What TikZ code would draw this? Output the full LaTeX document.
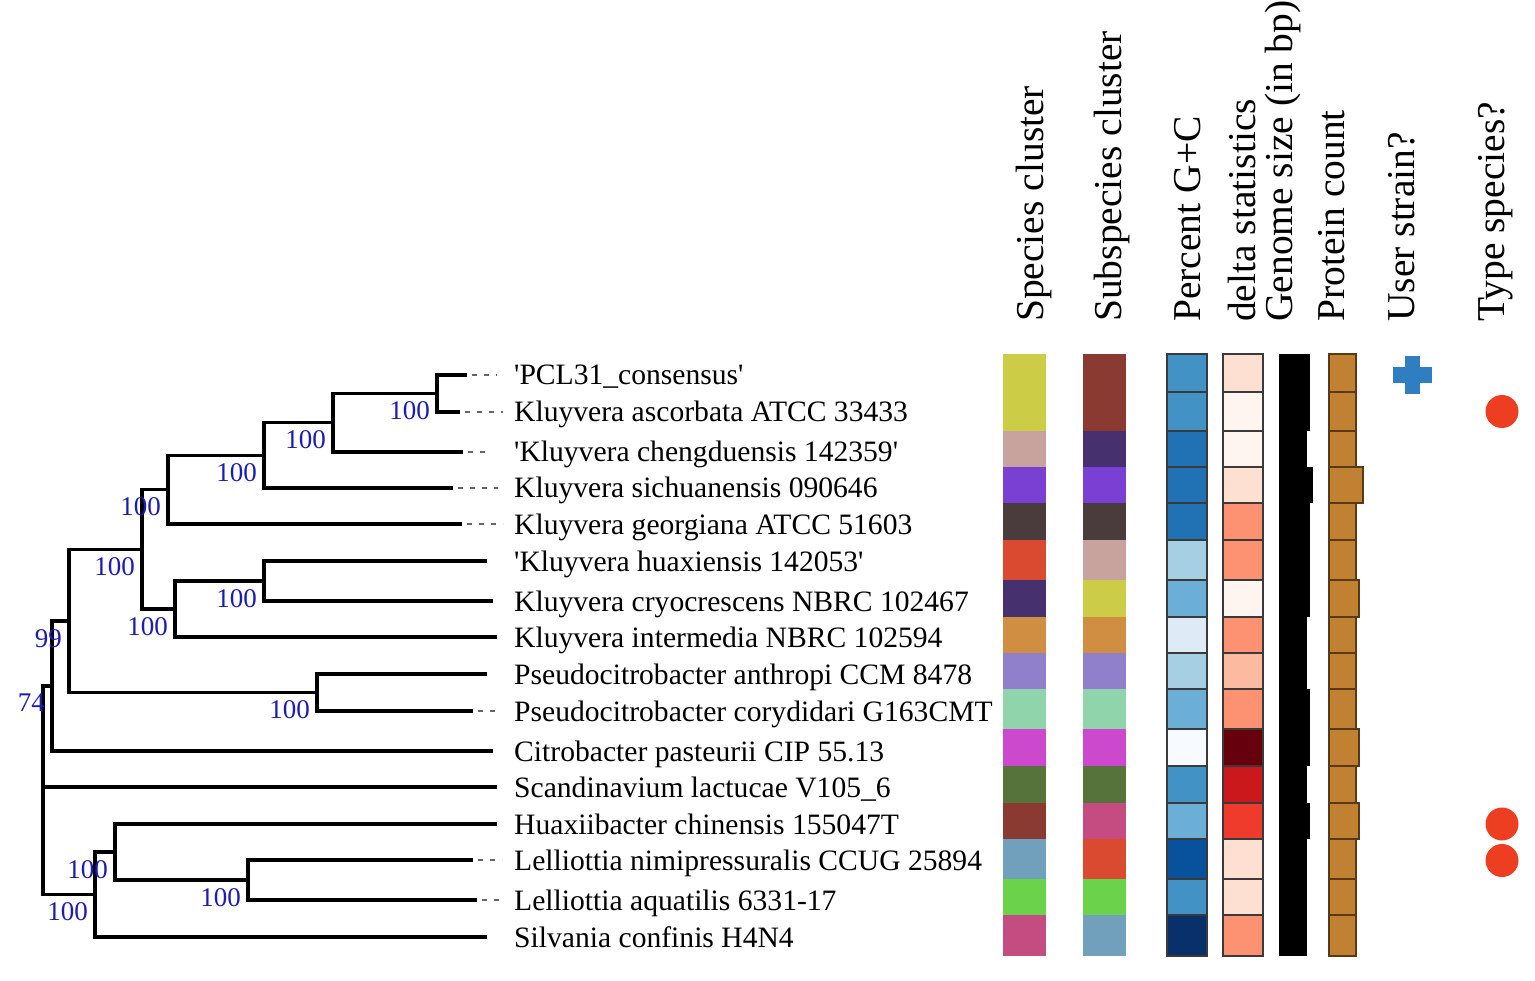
\documentclass[tikz,border=0pt]{standalone}
\usepackage{fontspec}
\setmainfont{Liberation Serif}
\usetikzlibrary{positioning}

\definecolor{bootblue}{HTML}{1C1CB4}
\definecolor{cellline}{HTML}{3A3A3A}
\definecolor{protfill}{HTML}{C08232}
\definecolor{protline}{HTML}{5A3A12}
\definecolor{userblue}{HTML}{2E7EC1}
\definecolor{typered}{HTML}{EE3E22}
% cluster colours
\definecolor{yellowC}{HTML}{CDCC47}
\definecolor{roseC}{HTML}{C8A39E}
\definecolor{violetC}{HTML}{7A40D4}
\definecolor{greyC}{HTML}{4A3C3C}
\definecolor{vermC}{HTML}{D94A30}
\definecolor{indigoC}{HTML}{47306E}
\definecolor{ochreC}{HTML}{D08E42}
\definecolor{lavC}{HTML}{9080CC}
\definecolor{mintC}{HTML}{90D4AC}
\definecolor{magC}{HTML}{CC48CC}
\definecolor{oliveC}{HTML}{56733B}
\definecolor{brickC}{HTML}{8A3A30}
\definecolor{steelC}{HTML}{70A0BC}
\definecolor{limeC}{HTML}{6AD24B}
\definecolor{raspC}{HTML}{C44C80}
% G+C blues
\definecolor{gcA}{HTML}{4292C6}
\definecolor{gcB}{HTML}{2171B5}
\definecolor{gcC}{HTML}{A6CFE4}
\definecolor{gcD}{HTML}{6BAED6}
\definecolor{gcE}{HTML}{DEEBF7}
\definecolor{gcF}{HTML}{F7FBFF}
\definecolor{gcG}{HTML}{08519C}
\definecolor{gcH}{HTML}{08306B}
% delta reds
\definecolor{dlA}{HTML}{FEE0D2}
\definecolor{dlB}{HTML}{FFF5F0}
\definecolor{dlC}{HTML}{FC9272}
\definecolor{dlD}{HTML}{FCBBA1}
\definecolor{dlE}{HTML}{67000D}
\definecolor{dlF}{HTML}{CB181D}
\definecolor{dlG}{HTML}{EF3B2C}

\tikzset{
  branch/.style={line width=3.4pt},
  leader/.style={line width=1.5pt, black!60, dash pattern=on 5pt off 7pt},
  boot/.style={text=bootblue, inner sep=0pt, font=\fontsize{27}{28}\selectfont},
  taxon/.style={anchor=base west, inner sep=0pt, font=\fontsize{29.6}{31}\selectfont},
  colhead/.style={rotate=90, anchor=base west, inner sep=0pt, font=\fontsize{39.5}{41}\selectfont},
  cell/.style={draw=cellline, line width=1.2pt},
}

\begin{document}
\begin{tikzpicture}[x=1pt,y=-1pt]
\useasboundingbox (0,0) rectangle (1535,981);
% Tips
\coordinate (t0) at (467,375);
\coordinate (t1) at (460,412);
\coordinate (t2) at (463,452);
\coordinate (t3) at (453,488);
\coordinate (t4) at (462,524);
\coordinate (t5) at (487,561);
\coordinate (t6) at (493,601);
\coordinate (t7) at (497,637);
\coordinate (t8) at (487,674);
\coordinate (t9) at (473,711);
\coordinate (t10) at (493,751);
\coordinate (t11) at (497,787);
\coordinate (t12) at (497,824);
\coordinate (t13) at (473,860);
\coordinate (t14) at (477,900);
\coordinate (t15) at (487,937);
% Internal nodes
\coordinate (n1) at (437,393.5);
\coordinate (n2) at (333,422.7);
\coordinate (n3) at (264,455.4);
\coordinate (n4) at (168,489.7);
\coordinate (n5) at (264,581);
\coordinate (n6) at (175,609);
\coordinate (n7) at (142,549.4);
\coordinate (n8) at (317,692.5);
\coordinate (n9) at (69,621);
\coordinate (n10) at (52,686);
\coordinate (n11) at (248,880);
\coordinate (n12) at (115,852);
\coordinate (n13) at (95,894.5);
\coordinate (root) at (43,787);
% Draw branches
\draw[branch] (t0) -| (n1) |- (t1);
\draw[branch] (n1) -| (n2) |- (t2);
\draw[branch] (n2) -| (n3) |- (t3);
\draw[branch] (n3) -| (n4) |- (t4);
\draw[branch] (t5) -| (n5) |- (t6);
\draw[branch] (n5) -| (n6) |- (t7);
\draw[branch] (n4) -| (n7) |- (n6);
\draw[branch] (t8) -| (n8) |- (t9);
\draw[branch] (n7) -| (n9) |- (n8);
\draw[branch] (n9) -| (n10) |- (t10);
\draw[branch] (t13) -| (n11) |- (t14);
\draw[branch] (t12) -| (n12) |- (n11);
\draw[branch] (n12) -| (n13) |- (t15);
\draw[branch] (n10) -| (root) |- (n13);
\draw[branch] (root) -- (t11);
% Leaders to labels
\foreach \t/\e in {t0/25,t1/38,t2/24,t3/40,t4/36,t9/19,t13/24,t14/20}
  \draw[leader] (\t) ++(5,0) -- ++(\e,0);
% Bootstrap values
\foreach \n/\v in {n1/100,n2/100,n3/100,n4/100,n5/100,n6/100,n7/100,n8/100,
                   n9/99,n10/74,n11/100,n12/100,n13/100}
  \node[boot, below left=8pt and 7pt of \n] (b\n) {\v};
% Taxon labels
\node[taxon] (lab0) at (514,385) {\textquotesingle PCL31\_consensus\textquotesingle};
\node[taxon] (lab1) at (514,422) {Kluyvera ascorbata ATCC 33433};
\node[taxon] (lab2) at (514,462) {\textquotesingle Kluyvera chengduensis 142359\textquotesingle};
\node[taxon] (lab3) at (514,498) {Kluyvera sichuanensis 090646};
\node[taxon] (lab4) at (514,534) {Kluyvera georgiana ATCC 51603};
\node[taxon] (lab5) at (514,571) {\textquotesingle Kluyvera huaxiensis 142053\textquotesingle};
\node[taxon] (lab6) at (514,611) {Kluyvera cryocrescens NBRC 102467};
\node[taxon] (lab7) at (514,647) {Kluyvera intermedia NBRC 102594};
\node[taxon] (lab8) at (514,684) {Pseudocitrobacter anthropi CCM 8478};
\node[taxon] (lab9) at (514,721) {Pseudocitrobacter corydidari G163CMT};
\node[taxon] (lab10) at (514,761) {Citrobacter pasteurii CIP 55.13};
\node[taxon] (lab11) at (514,797) {Scandinavium lactucae V105\_6};
\node[taxon] (lab12) at (514,834) {Huaxiibacter chinensis 155047T};
\node[taxon] (lab13) at (514,870) {Lelliottia nimipressuralis CCUG 25894};
\node[taxon] (lab14) at (514,910) {Lelliottia aquatilis 6331-17};
\node[taxon] (lab15) at (514,947) {Silvania confinis H4N4};
% Data columns
\foreach \top/\bot/\sp/\ssp/\gc/\dl/\gs/\pc in {
  354/392/yellowC/brickC/gcA/dlA/31.3/27,
  392/431/yellowC/brickC/gcA/dlB/31.3/27,
  431/467/roseC/indigoC/gcB/dlB/28/27,
  467/503/violetC/violetC/gcB/dlA/34/34,
  503/540/greyC/greyC/gcB/dlC/31.3/27,
  540/580/vermC/roseC/gcC/dlC/31.3/27,
  580/617/indigoC/yellowC/gcD/dlB/31.3/30,
  617/653/ochreC/ochreC/gcE/dlC/28/27,
  653/689/lavC/lavC/gcC/dlD/28/27,
  689/729/mintC/mintC/gcD/dlC/31.3/27,
  729/766/magC/magC/gcF/dlE/31.3/30,
  766/803/oliveC/oliveC/gcA/dlF/28/27,
  803/839/brickC/raspC/gcD/dlG/31.3/30,
  839/879/steelC/vermC/gcG/dlA/28/27,
  879/915/limeC/limeC/gcA/dlA/28/27,
  915/956/raspC/steelC/gcH/dlC/28/27}
{
  \fill[\sp] (1003,\top) rectangle (1046,\bot);
  \fill[\ssp] (1083,\top) rectangle (1126,\bot);
  \filldraw[cell, fill=\gc] (1167,\top) rectangle (1207,\bot);
  \filldraw[cell, fill=\dl] (1223,\top) rectangle (1263,\bot);
  \fill[black] (1279,\top) rectangle ++(\gs,\bot-\top);
  \filldraw[cell, draw=protline, fill=protfill] (1329,\top) rectangle ++(\pc,\bot-\top);
}
% Column headers
\node[colhead] (hSpecies) at (1043,322) {Species cluster};
\node[colhead] (hSubsp) at (1121,322) {Subspecies cluster};
\node[colhead] (hGC) at (1200,322) {Percent G+C};
\node[colhead] (hDelta) at (1255,322) {delta statistics};
\node[colhead] (hGenome) at (1292,322) {Genome size (in bp)};
\node[colhead] (hProtein) at (1344,322) {Protein count};
\node[colhead] (hUser) at (1414,322) {User strain?};
\node[colhead] (hType) at (1504,322) {Type species?};
% User strain mark
\fill[userblue] (1393,367) rectangle (1432,383);
\fill[userblue] (1405,356) rectangle (1420,394);
% Type species marks
\fill[typered] (1502,411.5) circle [radius=16.5];
\fill[typered] (1502,824) circle [radius=16.5];
\fill[typered] (1502,860.5) circle [radius=16.5];
\end{tikzpicture}
\end{document}
